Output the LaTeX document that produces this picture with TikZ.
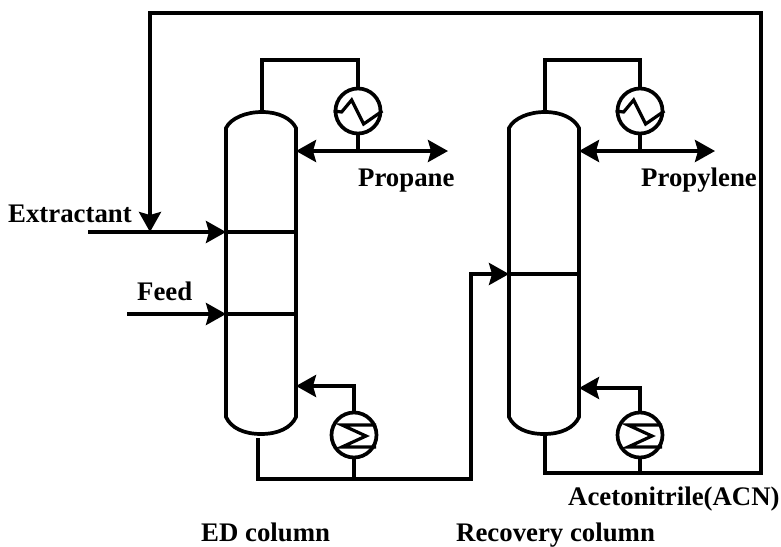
\documentclass[tikz,border=0pt]{standalone}
\usepackage{fontspec}
\setmainfont{Liberation Serif}
\usetikzlibrary{arrows.meta}
\tikzset{
  pipe/.style={line width=3.7pt,line join=miter},
  flow/.style={pipe,-{Stealth[length=20pt,width=22pt,inset=3pt]}},
  flowboth/.style={pipe,{Stealth[length=20pt,width=22pt,inset=3pt]}-{Stealth[length=20pt,width=22pt,inset=3pt]}},
  hx/.style={circle,draw,line width=3.7pt,minimum size=45pt,inner sep=0pt,fill=white},
  coil/.style={line width=3.2pt,line join=miter},
  lbl/.style={font=\bfseries\fontsize{26.8pt}{29pt}\selectfont,inner sep=0pt,anchor=base west}
}
\begin{document}
\begin{tikzpicture}[x=1pt,y=-1pt]
\useasboundingbox (0,0) rectangle (781,546);
% named points
\coordinate (c1tl) at (226,128); \coordinate (c1tr) at (296,128);
\coordinate (c1bl) at (226,417); \coordinate (c1br) at (296,417);
\coordinate (c2tl) at (509,128); \coordinate (c2tr) at (579,128);
\coordinate (c2bl) at (509,417); \coordinate (c2br) at (579,417);
\coordinate (c1top) at (262,112); \coordinate (c2top) at (545,112);
\coordinate (c1bot) at (258,438); \coordinate (c2bot) at (545,436);
\coordinate (c1a) at (296,151); \coordinate (c1b) at (296,386);
\coordinate (c2a) at (579,151); \coordinate (c2b) at (579,388);
\coordinate (ext0) at (88,232); \coordinate (ext1) at (226,232); \coordinate (ext2) at (296,232);
\coordinate (feed0) at (127,314); \coordinate (feed1) at (226,314); \coordinate (feed2) at (296,314);
\coordinate (rin) at (509,274); \coordinate (rin2) at (579,274);
\coordinate (out1) at (448,151); \coordinate (out2) at (715,151);
% columns
\draw[pipe] (c1tl) .. controls (231,118) and (246,112) .. (c1top) .. controls (278,112) and (291,118) .. (c1tr)
  -- (c1br) .. controls (291,428) and (278,434) .. (261,434) .. controls (244,434) and (231,428) .. (c1bl) -- cycle;
\draw[pipe] (c2tl) .. controls (514,118) and (529,112) .. (c2top) .. controls (561,112) and (574,118) .. (c2tr)
  -- (c2br) .. controls (574,428) and (561,434) .. (544,434) .. controls (527,434) and (514,428) .. (c2bl) -- cycle;
\draw[pipe] (ext1) -- (ext2);
\draw[pipe] (feed1) -- (feed2);
\draw[pipe] (rin) -- (rin2);
% exchangers
\node[hx] (cd1) at (358,111) {};
\node[hx] (cd2) at (640,111) {};
\node[hx] (rb1) at (354,435) {};
\node[hx] (rb2) at (640,435) {};
% overhead
\draw[pipe] (c1top) -- ++(0,-52) -| (cd1.north);
\draw[pipe] (c2top) -- ++(0,-52) -| (cd2.north);
\draw[flowboth] (c1a) -- (out1);
\draw[flowboth] (c2a) -- (out2);
\draw[pipe] (cd1.south) -- (cd1.south |- c1a);
\draw[pipe] (cd2.south) -- (cd2.south |- c2a);
% condenser squiggles
\draw[coil] (cd1.west) -- ++(8,1) -- ++(10,-12) -- ++(12,24) -- (cd1.east);
\draw[coil] (cd2.west) -- ++(8,1) -- ++(10,-12) -- ++(12,24) -- (cd2.east);
% reboilers
\draw[flow] (rb1.north) |- (c1b);
\draw[flow] (rb2.north) |- (c2b);
\draw[coil] (rb1.center)++(22,-10) -- ++(-34,0) -- ++(24,11) -- ++(-24,11) -- ++(34,0);
\draw[coil] (rb2.center)++(22,-10) -- ++(-34,0) -- ++(24,11) -- ++(-24,11) -- ++(34,0);
% bottoms
\coordinate (j1) at (354,479);
\coordinate (turn1) at (471,479);
\draw[pipe] (rb1.south) -- (j1);
\draw[flow] (c1bot) |- (turn1) |- (rin);
\coordinate (j2) at (640,473);
\coordinate (r1) at (761,473);
\coordinate (r2) at (761,13);
\coordinate (r3) at (150,13);
\draw[pipe] (rb2.south) -- (j2);
\draw[flow] (c2bot) |- (r1) -- (r2) -- (r3) -- (r3 |- ext0);
\draw[flow] (ext0) -- (ext1);
\draw[flow] (feed0) -- (feed1);
% labels
\node[lbl] (t1) at (358,186) {Propane};
\node[lbl] (t2) at (641,186) {Propylene};
\node[lbl] (t3) at (8,222) {Extractant};
\node[lbl] (t4) at (137,300) {Feed};
\node[lbl] (t5) at (568,505) {Acetonitrile(ACN)};
\node[lbl] (t6) at (201,541) {ED column};
\node[lbl] (t7) at (456,541) {Recovery column};
\end{tikzpicture}
\end{document}
